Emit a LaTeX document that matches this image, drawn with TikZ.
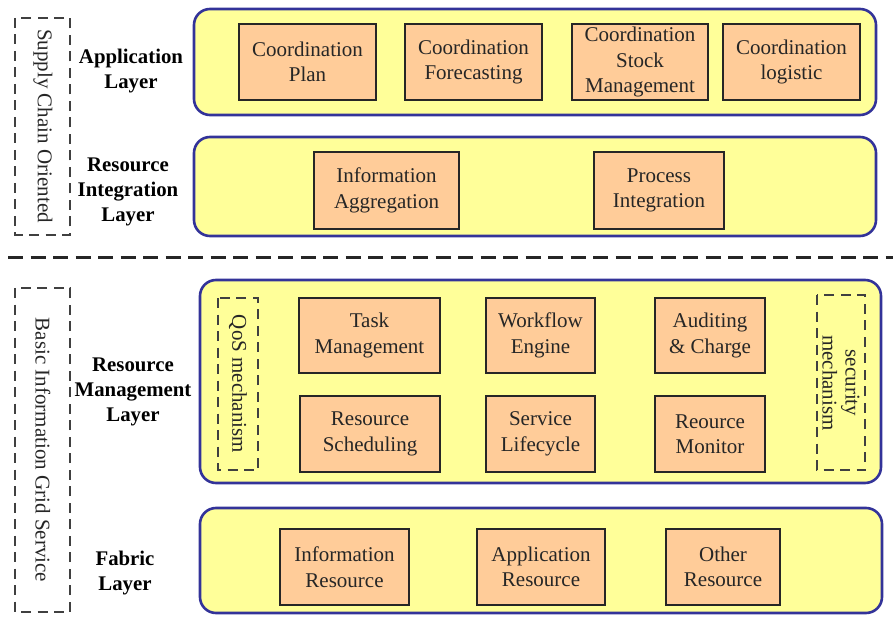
\documentclass[tikz,border=0pt]{standalone}
\usepackage{fontspec}
\setmainfont{Liberation Serif}
\definecolor{layerfill}{HTML}{FFFF99}
\definecolor{layerdraw}{HTML}{333399}
\definecolor{compfill}{HTML}{FFCC99}
\definecolor{txt}{HTML}{262626}
\definecolor{dashc}{HTML}{404040}
\tikzset{
  layer/.style={draw=layerdraw, fill=layerfill, line width=2.6pt, rounded corners=16pt},
  comp/.style={draw=black!85, fill=compfill, line width=1.6pt, align=center, inner sep=0pt,
     font=\fontsize{21}{25.5}\selectfont, text=txt},
  lbl/.style={align=center, font=\fontsize{20.8}{25}\selectfont\bfseries, text=black},
  dbox/.style={draw=dashc, line width=1.8pt, dash pattern=on 10pt off 6.5pt},
  vtext/.style={rotate=-90, align=center, font=\fontsize{21}{23}\selectfont, text=txt},
}
\begin{document}
\begin{tikzpicture}[x=1pt,y=-1pt]
\useasboundingbox (0,0) rectangle (893,617);
% layers
\draw[layer] (194,9) rectangle (876,115);
\draw[layer] (194,137) rectangle (876,236);
\draw[layer] (200,280) rectangle (881,483);
\draw[layer] (200,508) rectangle (882,613);
% separator
\draw[line width=3pt, black!85, dash pattern=on 15pt off 7.5pt] (8,258) -- (893,258);
% left dashed boxes
\draw[dbox] (15,18) rectangle (70,235);
\draw[dbox] (15,288) rectangle (70,612);
\node[vtext] (sco) at (43,126) {Supply Chain Oriented};
\node[vtext] (bigs) at (43,450) {Basic Information Grid Service};
% layer labels
\node[lbl] (lapp) at (131,71) {Application\\Layer};
\node[lbl] (lri) at (128,192) {Resource\\Integration\\Layer};
\node[lbl] (lrm) at (133,392) {Resource\\Management\\Layer};
\node[lbl] (lfab) at (125,573) {Fabric\\Layer};
% application layer
\node[comp, minimum width=137pt, minimum height=76pt] (cp) at (307.5,62) {Coordination\\Plan};
\node[comp, minimum width=137pt, minimum height=76pt] (cf) at (473.5,62) {Coordination\\Forecasting};
\node[comp, minimum width=136pt, minimum height=76pt] (csm) at (640,62) {Coordination\\Stock\\Management};
\node[comp, minimum width=137pt, minimum height=76pt] (cl) at (791.5,62) {Coordination\\logistic};
% resource integration
\node[comp, minimum width=145pt, minimum height=77pt] (ia) at (386.5,190.5) {Information\\Aggregation};
\node[comp, minimum width=130pt, minimum height=77pt] (pi) at (659,190.5) {Process\\Integration};
% resource management
\draw[dbox] (218,298) rectangle (258,470);
\node[vtext] (qos) at (238,384) {QoS mechanism};
\draw[dbox] (817,295) rectangle (865,470);
\node[vtext] (sec) at (841,383) {security\\mechanism};
\node[comp, minimum width=141pt, minimum height=75pt] (tm) at (369.5,335.5) {Task\\Management};
\node[comp, minimum width=109pt, minimum height=75pt] (we) at (540.5,335.5) {Workflow\\Engine};
\node[comp, minimum width=110pt, minimum height=75pt] (ac) at (710,335.5) {Auditing\\\& Charge};
\node[comp, minimum width=140pt, minimum height=76pt] (rs) at (370,434) {Resource\\Scheduling};
\node[comp, minimum width=109pt, minimum height=76pt] (sl) at (540.5,434) {Service\\Lifecycle};
\node[comp, minimum width=110pt, minimum height=76pt] (rmo) at (710,434) {Reource\\Monitor};
% fabric
\node[comp, minimum width=129pt, minimum height=76pt] (ir) at (344.5,567) {Information\\Resource};
\node[comp, minimum width=128pt, minimum height=76pt] (ar) at (541,567) {Application\\Resource};
\node[comp, minimum width=114pt, minimum height=76pt] (ot) at (723,567) {Other\\Resource};
\end{tikzpicture}
\end{document}
